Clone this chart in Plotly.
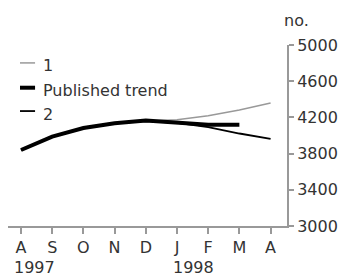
import plotly.graph_objects as go

months = ["A", "S", "O", "N", "D", "J", "F", "M", "A"]
series1 = [3840, 3985, 4080, 4135, 4160, 4175, 4218, 4281, 4360]
trend = [3840, 3988, 4083, 4136, 4165, 4147, 4118, 4118, None]
series2 = [3840, 3985, 4080, 4135, 4160, 4140, 4093, 4022, 3963]
years = ["1997", "1998"]
year_pos = [-0.19, 4.9]
yticks = [3000, 3400, 3800, 4200, 4600, 5000]

x = list(range(len(months)))
font = dict(family="DejaVu Sans", size=16, color="#333")

fig = go.Figure()
fig.add_trace(go.Scatter(x=x, y=series1, mode="lines", line=dict(color="#999", width=1.5), name="1"))
fig.add_trace(go.Scatter(x=x, y=series2, mode="lines", line=dict(color="#000", width=1.8), name="2"))
fig.add_trace(go.Scatter(x=x, y=trend, mode="lines", line=dict(color="#000", width=4), name="Published trend"))

fig.update_layout(
    width=339, height=269,
    margin=dict(l=0, r=60, t=37, b=51, autoexpand=False),
    plot_bgcolor="white", paper_bgcolor="white",
    showlegend=False, font=font,
    xaxis=dict(tickmode="array", tickvals=x, ticktext=months, range=[-0.417, 8.526],
               showgrid=False, zeroline=False, showline=True, linecolor="#999", linewidth=2,
               ticks="outside", ticklen=6, tickcolor="#999", tickwidth=1.5, tickfont=font),
    yaxis=dict(side="right", range=[3000, 5000], tickvals=yticks, showgrid=False, zeroline=False,
               showline=True, linecolor="#999", linewidth=2, ticks="outside", ticklen=5,
               tickcolor="#999", tickwidth=1.5, tickfont=font),
)

for yr, p in zip(years, year_pos):
    fig.add_annotation(x=p, y=0, xref="x", yref="paper", yshift=-41, text=yr, showarrow=False,
                       font=font, yanchor="middle", xanchor="left", xshift=-3)

fig.add_annotation(x=0.993, y=1.133, xref="paper", yref="paper", text="no.", showarrow=False,
                   font=font, xanchor="left", yanchor="middle", xshift=-3)

legend = [("1", "#999", 1.5, 0.901, 0.884), ("Published trend", "#000", 4, 0.764, 0.751),
          ("2", "#000", 1.8, 0.635, 0.616)]
for name, col, w, yl, yt in legend:
    fig.add_shape(type="line", xref="paper", yref="paper", x0=0.043, x1=0.097, y0=yl, y1=yl,
                  line=dict(color=col, width=w))
    fig.add_annotation(x=0.129, y=yt, xref="paper", yref="paper", text=name, showarrow=False,
                       font=font, xanchor="left", yanchor="middle", xshift=-3)

fig.write_html("out.html")
